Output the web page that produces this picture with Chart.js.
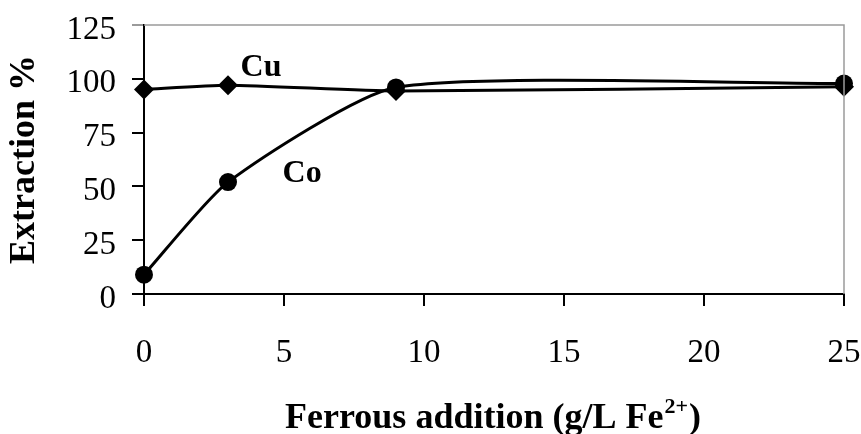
<!DOCTYPE html>
<html>
<head>
<meta charset="utf-8">
<script src="https://cdn.jsdelivr.net/npm/chart.js@4.4.0/dist/chart.umd.min.js"></script>
<style>
  html, body { margin: 0; padding: 0; background: #fff; }
  canvas { display: block; }
</style>
</head>
<body>
<canvas id="chart" width="861" height="434"></canvas>
<script>
const feAddition = [0, 3, 9, 25];
const cuExtraction = [95, 97, 94.3, 96.3];
const coExtraction = [9, 52, 96, 97.8];
const xTicks = [0, 5, 10, 15, 20, 25];
const yTicks = [0, 25, 50, 75, 100, 125];
const seriesLabels = [{ text: 'Cu', x: 3.45, y: 105 }, { text: 'Co', x: 4.95, y: 56 }];

const SERIF = '"Liberation Serif", "Times New Roman", serif';

const frameAndText = {
    id: 'frameAndText',
    afterDraw(chart) {
        const { ctx, chartArea: a, scales: { x, y } } = chart;
        ctx.save();
        // grey top/right frame
        ctx.strokeStyle = '#9a9a9a';
        ctx.lineWidth = 1.5;
        ctx.beginPath();
        ctx.moveTo(a.left, a.top);
        ctx.lineTo(a.right, a.top);
        ctx.lineTo(a.right, a.bottom);
        ctx.stroke();

        // series labels
        ctx.fillStyle = '#000';
        ctx.font = 'bold 32px ' + SERIF;
        ctx.textBaseline = 'middle';
        ctx.textAlign = 'left';
        seriesLabels.forEach(l => ctx.fillText(l.text, x.getPixelForValue(l.x), y.getPixelForValue(l.y)));

        // x axis title with superscript
        const main = 'Ferrous addition (g/L Fe';
        const sup = '2+';
        const close = ')';
        ctx.textBaseline = 'alphabetic';
        ctx.font = 'bold 36px ' + SERIF;
        const wMain = ctx.measureText(main).width;
        const wClose = ctx.measureText(close).width;
        ctx.font = 'bold 22px ' + SERIF;
        const wSup = ctx.measureText(sup).width;
        const total = wMain + wSup + wClose;
        let cx = 492 - total / 2;
        const base = 428;
        ctx.font = 'bold 36px ' + SERIF;
        ctx.fillText(main, cx, base);
        cx += wMain;
        ctx.font = 'bold 22px ' + SERIF;
        ctx.fillText(sup, cx + 1, base - 15);
        cx += wSup + 2;
        ctx.font = 'bold 36px ' + SERIF;
        ctx.fillText(close, cx, base);
        ctx.restore();
    }
};

const lineStyle = { borderColor: '#000', backgroundColor: '#000', borderWidth: 3, tension: 0.2, clip: false, pointBorderWidth: 0 };

const noPad = s => { s.paddingLeft = 0; s.paddingRight = 0; s.paddingTop = 0; s.paddingBottom = 0; };

new Chart(document.getElementById('chart'), {
    type: 'line',
    data: {
        datasets: [
            { label: 'Cu', data: feAddition.map((v, i) => ({ x: v, y: cuExtraction[i] })), pointStyle: 'rectRot', pointRadius: 10, ...lineStyle },
            { label: 'Co', data: feAddition.map((v, i) => ({ x: v, y: coExtraction[i] })), pointStyle: 'circle', pointRadius: 9, ...lineStyle }
        ]
    },
    options: {
        responsive: false,
        animation: false,
        layout: { padding: { top: 25, right: 17, left: 0, bottom: 0 } },
        plugins: { legend: { display: false }, tooltip: { enabled: false } },
        scales: {
            x: {
                type: 'linear', min: 0, max: 25,
                afterBuildTicks: s => { s.ticks = xTicks.map(v => ({ value: v })); },
                afterFit: s => { s.height = 140; noPad(s); },
                ticks: { color: '#000', padding: 28, font: { family: SERIF, size: 33 } },
                grid: { drawOnChartArea: false, tickLength: 12, color: '#000', lineWidth: 2 },
                border: { color: '#000', width: 2 }
            },
            y: {
                min: 0, max: 125,
                afterBuildTicks: s => { s.ticks = yTicks.map(v => ({ value: v })); },
                afterFit: s => { s.width = 144; noPad(s); },
                ticks: { color: '#000', padding: 16, labelOffset: 5, font: { family: SERIF, size: 33 } },
                grid: { drawOnChartArea: false, tickLength: 12, lineWidth: 2, color: c => c.tick && c.tick.value === 125 ? '#9a9a9a' : '#000' },
                border: { color: '#000', width: 2 },
                title: { display: true, text: 'Extraction %', color: '#000', padding: { top: 3, bottom: 0 }, font: { family: SERIF, size: 36, weight: 'bold' } }
            }
        }
    },
    plugins: [frameAndText]
});
</script>
</body>
</html>
